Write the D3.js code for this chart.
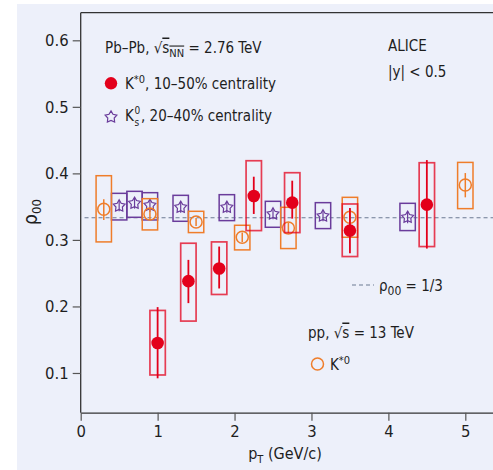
<!DOCTYPE html>
<html>
<head>
<meta charset="utf-8">
<script src="https://cdn.jsdelivr.net/npm/d3@7"></script>
<style>
  body { margin: 0; background: #ffffff; }
  svg { display: block; }
  text { font-family: "Liberation Sans Narrow", "DejaVu Sans Condensed", "Roboto", sans-serif; fill: #1e1e1e; }
</style>
</head>
<body>
<script>
const W = 493, H = 470;

// Pb-Pb K*0, 10-50% centrality
const pbX      = [1.0, 1.4, 1.8, 2.25, 2.75, 3.5, 4.5];
const pbY      = [0.145, 0.238, 0.257, 0.366, 0.356, 0.314, 0.353];
const pbStatLo = [0.092, 0.205, 0.227, 0.339, 0.332, 0.280, 0.287];
const pbStatHi = [0.199, 0.270, 0.290, 0.395, 0.389, 0.348, 0.420];
const pbSysLo  = [0.097, 0.178, 0.218, 0.314, 0.311, 0.275, 0.290];
const pbSysHi  = [0.194, 0.295, 0.297, 0.419, 0.401, 0.354, 0.416];

// Pb-Pb K0s, 20-40% centrality
const ksX      = [0.5, 0.7, 0.9, 1.3, 1.9, 2.5, 3.15, 4.25];
const ksY      = [0.351, 0.355, 0.352, 0.349, 0.349, 0.339, 0.336, 0.334];
const ksStatLo = [0.343, 0.347, 0.342, 0.341, 0.341, 0.331, 0.328, 0.325];
const ksStatHi = [0.359, 0.363, 0.360, 0.357, 0.357, 0.347, 0.344, 0.343];
const ksSysLo  = [0.330, 0.334, 0.330, 0.328, 0.329, 0.319, 0.317, 0.314];
const ksSysHi  = [0.370, 0.373, 0.371, 0.367, 0.368, 0.358, 0.356, 0.355];

// pp K*0, 13 TeV
const ppX      = [0.3, 0.9, 1.5, 2.1, 2.7, 3.5, 5.0];
const ppY      = [0.346, 0.339, 0.327, 0.304, 0.318, 0.334, 0.3825];
const ppStatLo = [0.330, 0.330, 0.321, 0.297, 0.310, 0.320, 0.364];
const ppStatHi = [0.361, 0.348, 0.333, 0.311, 0.326, 0.347, 0.4005];
const ppSysLo  = [0.297, 0.315, 0.311, 0.285, 0.287, 0.304, 0.347];
const ppSysHi  = [0.3965, 0.362, 0.343, 0.322, 0.349, 0.364, 0.4165];

const xTicks = [0, 1, 2, 3, 4, 5];
const yTicks = [0.1, 0.2, 0.3, 0.4, 0.5, 0.6];
const rhoRef = 1 / 3;

const red = "#e3001b", orange = "#ef7d2a", purple = "#6a3c9b";

var xScale = d3.scaleLinear().domain([0, 5.36]).range([80.7, 493]);
var yScale = d3.scaleLinear().domain([0.0403, 0.6415]).range([412.7, 12.7]);

var svg = d3.select("body").append("svg")
    .attr("width", W)
    .attr("height", H);

// light panel behind everything
svg.append("rect")
    .attr("x", 17).attr("y", 4)
    .attr("width", W - 17).attr("height", H - 4)
    .attr("fill", "#edf0fa");

// top frame line
svg.append("line")
    .attr("x1", xScale(0)).attr("x2", W)
    .attr("y1", yScale.range()[1]).attr("y2", yScale.range()[1])
    .attr("stroke", "#333").attr("stroke-width", 1.3);

var xAxis = d3.axisBottom(xScale).tickValues(xTicks).tickSize(8).tickSizeOuter(0).tickPadding(5)
    .tickFormat(d3.format("d"));
var yAxis = d3.axisLeft(yScale).tickValues(yTicks).tickSize(8).tickSizeOuter(0).tickPadding(4)
    .tickFormat(d3.format(".1f"));

var gx = svg.append("g")
    .attr("transform", "translate(0," + yScale.range()[0] + ")")
    .call(xAxis);
var gy = svg.append("g")
    .attr("transform", "translate(" + xScale(0) + ",0)")
    .call(yAxis);

[gx, gy].forEach(function(g) {
    g.select(".domain").attr("stroke", "#333").attr("stroke-width", 1.3);
    g.selectAll(".tick line").attr("stroke", "#555").attr("stroke-width", 1.2);
    g.selectAll(".tick text").style("font-size", "16.5px").attr("fill", "#1e1e1e");
});
gy.select(".domain").attr("d", "M0," + yScale.range()[0] + "V" + yScale.range()[1]);

// reference line rho00 = 1/3
svg.append("line")
    .attr("x1", xScale(0.05)).attr("x2", W)
    .attr("y1", yScale(rhoRef)).attr("y2", yScale(rhoRef))
    .attr("stroke", "#6c7a92").attr("stroke-width", 1.2)
    .attr("stroke-dasharray", "4,3");

// open star shape used for K0s
var starType = {
    draw: function(context, size) {
        var R = Math.sqrt(size), r = R * 0.55;
        for (var i = 0; i < 10; i++) {
            var a = -Math.PI / 2 + i * Math.PI / 5;
            var rr = i % 2 ? r : R;
            if (i === 0) context.moveTo(rr * Math.cos(a), rr * Math.sin(a));
            else context.lineTo(rr * Math.cos(a), rr * Math.sin(a));
        }
        context.closePath();
    }
};

function toRows(xs, ys, slo, shi, ylo, yhi) {
    return xs.map(function(x, i) {
        return {x: x, y: ys[i], statLo: slo[i], statHi: shi[i], sysLo: ylo[i], sysHi: yhi[i]};
    });
}

var pbData = toRows(pbX, pbY, pbStatLo, pbStatHi, pbSysLo, pbSysHi);
var ksData = toRows(ksX, ksY, ksStatLo, ksStatHi, ksSysLo, ksSysHi);
var ppData = toRows(ppX, ppY, ppStatLo, ppStatHi, ppSysLo, ppSysHi);

function drawBoxes(data, color, width, opacity) {
    svg.append("g").selectAll("rect").data(data).enter().append("rect")
        .attr("x", function(d) { return xScale(d.x - 0.1); })
        .attr("width", function(d) { return xScale(d.x + 0.1) - xScale(d.x - 0.1); })
        .attr("y", function(d) { return yScale(d.sysHi); })
        .attr("height", function(d) { return yScale(d.sysLo) - yScale(d.sysHi); })
        .attr("fill", "none")
        .attr("stroke", color)
        .attr("stroke-opacity", opacity)
        .attr("stroke-width", width);
}

function drawStat(data, color, width) {
    svg.append("g").selectAll("line").data(data).enter().append("line")
        .attr("x1", function(d) { return xScale(d.x); })
        .attr("x2", function(d) { return xScale(d.x); })
        .attr("y1", function(d) { return yScale(d.statHi); })
        .attr("y2", function(d) { return yScale(d.statLo); })
        .attr("stroke", color)
        .attr("stroke-width", width);
}

// K0s
drawBoxes(ksData, purple, 1.5, 1);
drawStat(ksData, purple, 1.2);
svg.append("g").selectAll("path").data(ksData).enter().append("path")
    .attr("transform", function(d) { return "translate(" + xScale(d.x) + "," + yScale(d.y) + ")"; })
    .attr("d", d3.symbol().type(starType).size(38))
    .attr("fill", "none")
    .attr("stroke", purple)
    .attr("stroke-width", 1.2);

// pp K*0
drawBoxes(ppData, orange, 1.5, 1);
drawStat(ppData, orange, 1.5);
svg.append("g").selectAll("circle").data(ppData).enter().append("circle")
    .attr("cx", function(d) { return xScale(d.x); })
    .attr("cy", function(d) { return yScale(d.y); })
    .attr("r", 6)
    .attr("fill", "none")
    .attr("stroke", orange)
    .attr("stroke-width", 1.5);

// Pb-Pb K*0
drawBoxes(pbData, red, 1.7, 0.75);
drawStat(pbData, red, 1.8);
svg.append("g").selectAll("circle").data(pbData).enter().append("circle")
    .attr("cx", function(d) { return xScale(d.x); })
    .attr("cy", function(d) { return yScale(d.y); })
    .attr("r", 6.3)
    .attr("fill", red);

// ---- legend and labels ----
function label(x, y, size) {
    return svg.append("text").attr("x", x).attr("y", y).style("font-size", size + "px");
}

var t1 = label(105, 52.5, 15);
t1.append("tspan").text("Pb\u2013Pb, \u221A");
t1.append("tspan").attr("text-decoration", "overline").text("s");
t1.append("tspan").attr("dy", 4).style("font-size", "11px").attr("text-decoration", "overline").text("NN");
t1.append("tspan").attr("dy", -4).text(" = 2.76 TeV");

svg.append("circle").attr("cx", 111).attr("cy", 83.3).attr("r", 6.2).attr("fill", red);
var t2 = label(125, 88.5, 15);
t2.append("tspan").text("K");
t2.append("tspan").attr("dy", -6).style("font-size", "11px").text("*0");
t2.append("tspan").attr("dy", 6).text(", 10\u201350% centrality");

svg.append("path")
    .attr("transform", "translate(111,117)")
    .attr("d", d3.symbol().type(starType).size(38))
    .attr("fill", "none").attr("stroke", purple).attr("stroke-width", 1.2);
// K0s label: the stacked "0" and "s" sit in their own small texts
label(125, 121, 15).text("K");
label(134.5, 114, 10).text("0");
label(134.5, 126, 10).text("s");
label(141, 121, 15).text(", 20\u201340% centrality");

label(388, 50.5, 15).text("ALICE");
label(388, 77, 15).text("|y| < 0.5");

svg.append("line")
    .attr("x1", 352).attr("x2", 374).attr("y1", 285).attr("y2", 285)
    .attr("stroke", "#6c7a92").attr("stroke-width", 1.2).attr("stroke-dasharray", "4,3");
var t4 = label(379, 291, 15);
t4.append("tspan").text("\u03C1");
t4.append("tspan").attr("dy", 4).style("font-size", "12px").text("00");
t4.append("tspan").attr("dy", -4).text(" = 1/3");

var t5 = label(308, 337.5, 15);
t5.append("tspan").text("pp, \u221A");
t5.append("tspan").attr("text-decoration", "overline").text("s");
t5.append("tspan").text(" = 13 TeV");

svg.append("circle").attr("cx", 317.5).attr("cy", 364).attr("r", 6)
    .attr("fill", "none").attr("stroke", orange).attr("stroke-width", 1.5);
var t6 = label(330, 370, 15);
t6.append("tspan").text("K");
t6.append("tspan").attr("dy", -6).style("font-size", "11px").text("*0");

// axis titles
var xt = label(285, 459, 16).attr("text-anchor", "middle");
xt.append("tspan").text("p");
xt.append("tspan").attr("dy", 4).style("font-size", "11px").text("T");
xt.append("tspan").attr("dy", -4).text(" (GeV/c)");

var yt = svg.append("text")
    .attr("transform", "translate(37,212) rotate(-90)")
    .attr("text-anchor", "middle")
    .style("font-size", "19px");
yt.append("tspan").text("\u03C1");
yt.append("tspan").attr("dy", 4).style("font-size", "13px").text("00");
</script>
</body>
</html>
